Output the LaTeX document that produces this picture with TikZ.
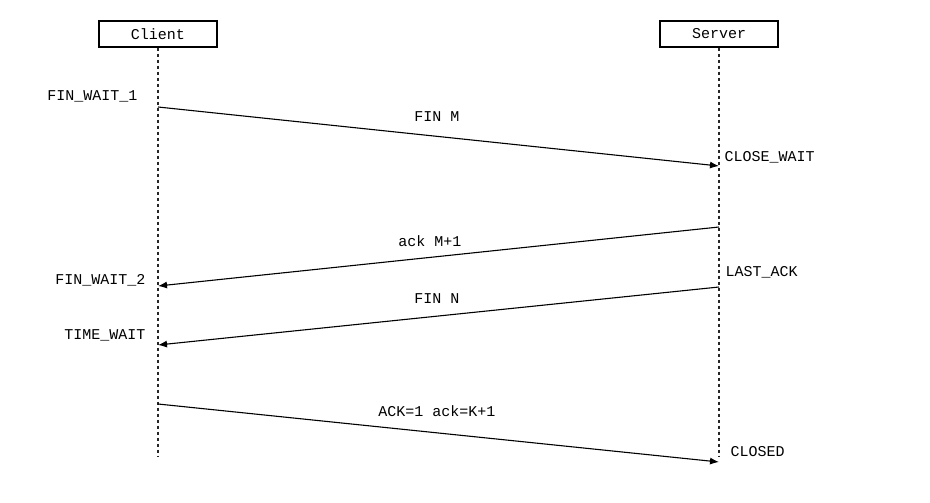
\documentclass[tikz,border=0pt]{standalone}
\usepackage{fontspec}
\setmonofont{Liberation Mono}
\usetikzlibrary{positioning,arrows.meta}

\tikzset{
  party/.style = {draw, line width = 1.1pt, rectangle, minimum width = 118pt, minimum height = 26pt, font = \ttfamily\fontsize{15}{15}\selectfont},
  life/.style = {dashed, line width = 1.1pt, gray!30!black},
  msg/.style = {-{Latex[length=9pt,width=7pt]}, line width = 1.1pt},
  lbl/.style = {font = \ttfamily\fontsize{15}{15}\selectfont},
}

\begin{document}
\begin{tikzpicture}[x = 1pt, y = -1pt]
\useasboundingbox (0,0) rectangle (930,503);
\node[party] (client) at (158,34) {Client};
\node[party] (server) at (719,34) {Server};
\coordinate (cend) at (158,456);
\coordinate (send) at (719,456);
\draw[life] (client) -- (cend);
\draw[life] (server) -- (send);
% messages
\coordinate (c1) at (158,107); \coordinate (s1) at (719,166);
\coordinate (s2) at (719,227); \coordinate (c2) at (158,286);
\coordinate (s3) at (719,287); \coordinate (c3) at (158,345);
\coordinate (c4) at (158,404); \coordinate (s4) at (719,462);
\draw[msg] (c1) -- (s1);
\draw[msg] (s2) -- (c2);
\draw[msg] (s3) -- (c3);
\draw[msg] (c4) -- (s4);
\node[lbl] (m1) at (437,117) {FIN M};
\node[lbl] (m2) at (430,241) {ack M+1};
\node[lbl] (m3) at (437,299) {FIN N};
\node[lbl] (m4) at (437,411) {ACK=1 ack=K+1};
% states
\node[lbl, anchor = east] (st1) at (141,96) {FIN\_WAIT\_1};
\node[lbl, anchor = west] (st2) at (721,157) {CLOSE\_WAIT};
\node[lbl, anchor = east] (st3) at (149,280) {FIN\_WAIT\_2};
\node[lbl, anchor = west] (st4) at (722,272) {LAST\_ACK};
\node[lbl, anchor = east] (st5) at (149,335) {TIME\_WAIT};
\node[lbl, anchor = west] (st6) at (727,452) {CLOSED};
\end{tikzpicture}
\end{document}
